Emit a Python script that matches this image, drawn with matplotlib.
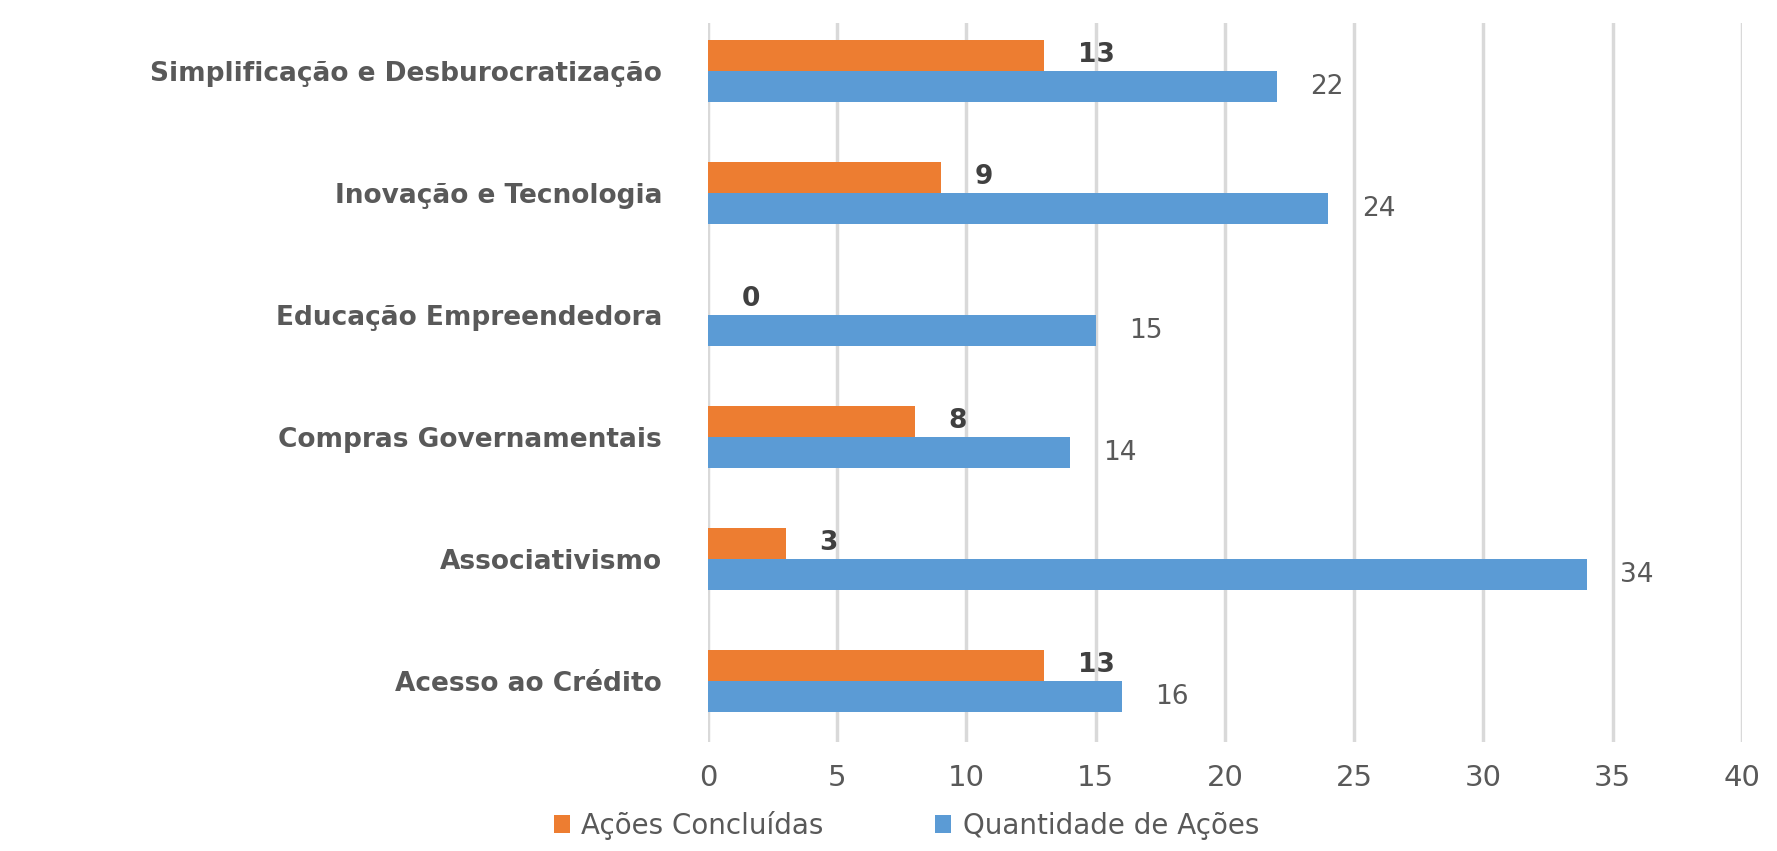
import matplotlib
matplotlib.use("Agg")
import matplotlib.pyplot as plt
import numpy as np

categories = ["Acesso ao Crédito", "Associativismo", "Compras Governamentais",
              "Educação Empreendedora", "Inovação e Tecnologia",
              "Simplificação e Desburocratização"]
concluidas = [13, 3, 8, 0, 9, 13]
quantidade = [16, 34, 14, 15, 24, 22]

orange = "#ED7D31"
blue = "#5B9BD5"
text_col = "#595959"

fig = plt.figure(figsize=(17.77, 8.51), dpi=100)
ax = fig.add_axes([0.3984, 0.1281, 0.5819, 0.8449])

y = np.arange(len(categories))
h = 0.255
ax.barh(y + h / 2, concluidas, height=h, color=orange, label="Ações Concluídas", zorder=3)
ax.barh(y - h / 2, quantidade, height=h, color=blue, label="Quantidade de Ações", zorder=3)

# value labels
for yi, v in zip(y, concluidas):
    ax.text(v + 1.3, yi + h / 2, str(v), va="center", ha="left",
            fontsize=19, fontweight="bold", color="#404040")
for yi, v in zip(y, quantidade):
    ax.text(v + 1.3, yi - h / 2, str(v), va="center", ha="left",
            fontsize=19, color=text_col)

ax.set_xlim(0, 40)
ax.set_ylim(-0.5, 5.394)
ax.set_xticks(range(0, 41, 5))
ax.set_yticks(y)
ax.set_yticklabels(categories, fontsize=19, fontweight="bold", color=text_col)
ax.tick_params(axis="x", labelsize=21, colors=text_col, length=0, pad=16)
ax.tick_params(axis="y", length=0, pad=33)
ax.grid(axis="x", color="#D9D9D9", linewidth=2.5, zorder=0)
for s in ax.spines.values():
    s.set_visible(False)

fig.legend(loc="center", bbox_to_anchor=(0.51, 0.03), ncol=2, frameon=False,
           fontsize=20, labelcolor=text_col, handlelength=0.6, handleheight=0.6,
           columnspacing=4, handletextpad=0.4)

fig.savefig("out.png", dpi=100)
